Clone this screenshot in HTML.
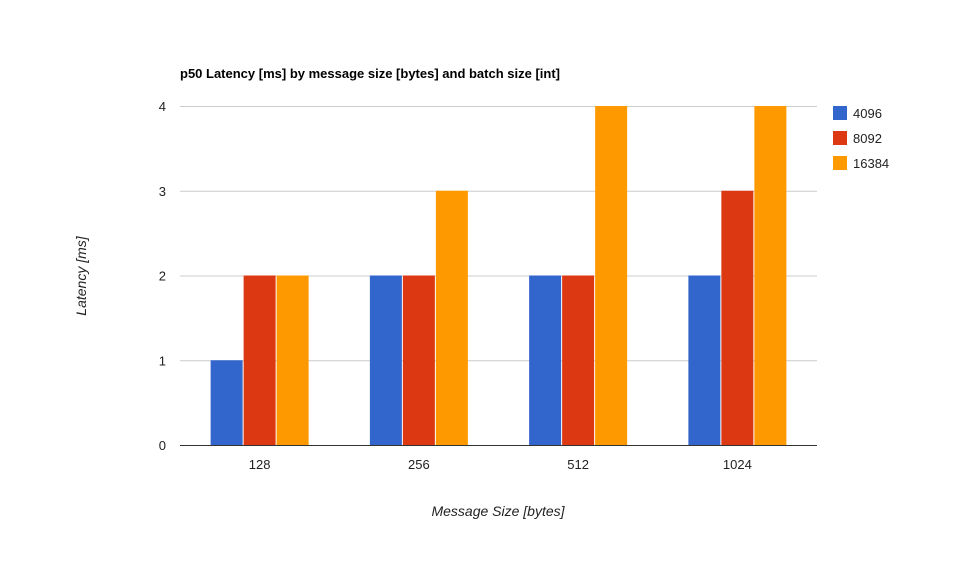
<!DOCTYPE html>
<html><head><meta charset="utf-8"><style>
html,body{margin:0;padding:0;background:#fff;}
svg{display:block;font-family:"Liberation Sans",Arial,sans-serif;}
</style></head><body>
<svg id="chart" width="965" height="566">
<text x="180" y="78" font-size="13" font-weight="bold" fill="#000">p50 Latency [ms] by message size [bytes] and batch size [int]</text>
<text transform="translate(86,276) rotate(-90)" text-anchor="middle" font-size="14" font-style="italic" fill="#222">Latency [ms]</text>
<text x="498" y="516" text-anchor="middle" font-size="14" font-style="italic" fill="#222">Message Size [bytes]</text>
<g id="grid"></g><g id="bars"></g><g id="axes"></g><g id="legend"></g>
</svg>
<script>
const categories=["128","256","512","1024"];
const seriesNames=["4096","8092","16384"];
const s4096=[1,2,2,2];
const s8092=[2,2,2,3];
const s16384=[2,3,4,4];
const yTicks=[0,1,2,3,4];
const colors=["#3366cc","#dc3912","#ff9900"];
const NS="http://www.w3.org/2000/svg";
const x0=180,x1=817,yb=445,yt=106,yMax=4;
function yScale(v){return yb-(v/yMax)*(yb-yt);}
const gw=(x1-x0)/categories.length;
function xCenter(i){return x0+gw*(i+0.5);}
function mk(t,a,p){const e=document.createElementNS(NS,t);for(const k in a)e.setAttribute(k,a[k]);p.appendChild(e);return e;}
const grid=document.getElementById('grid'),bars=document.getElementById('bars'),axes=document.getElementById('axes'),legend=document.getElementById('legend');
yTicks.forEach(v=>{
 const y=yScale(v);
 const l=mk('line',{x1:x0,x2:x1,y1:y+0.5,y2:y+0.5,stroke:v===0?'#333':'#ccc','stroke-width':1},grid);
 
 
 const t=mk('text',{x:166,y:y+5,'text-anchor':'end','font-size':13,fill:'#222'},axes);
 t.textContent=v;
 
 
});
const series=[s4096,s8092,s16384];
const bw=33;
categories.forEach((c,i)=>{
 const cx=xCenter(i);
 series.forEach((s,j)=>{
  const x=cx-1.5*bw+j*bw;
  const y=yScale(s[i]);
  const r=mk('rect',{x:x+0.5,y:y,width:bw-1,height:yb-y,fill:colors[j]},bars);
  
  
 });
 const t=mk('text',{x:cx,y:469,'text-anchor':'middle','font-size':13,fill:'#222'},axes);
 t.textContent=c;
 
 
});
seriesNames.forEach((n,j)=>{
 const y=106+j*25;
 const r=mk('rect',{x:833,y:y,width:14,height:14,fill:colors[j]},legend);
 
 
 const t=mk('text',{x:853,y:y+12,'font-size':13,fill:'#222'},legend);
 t.textContent=n;
 
 
});
</script>
</body></html>
